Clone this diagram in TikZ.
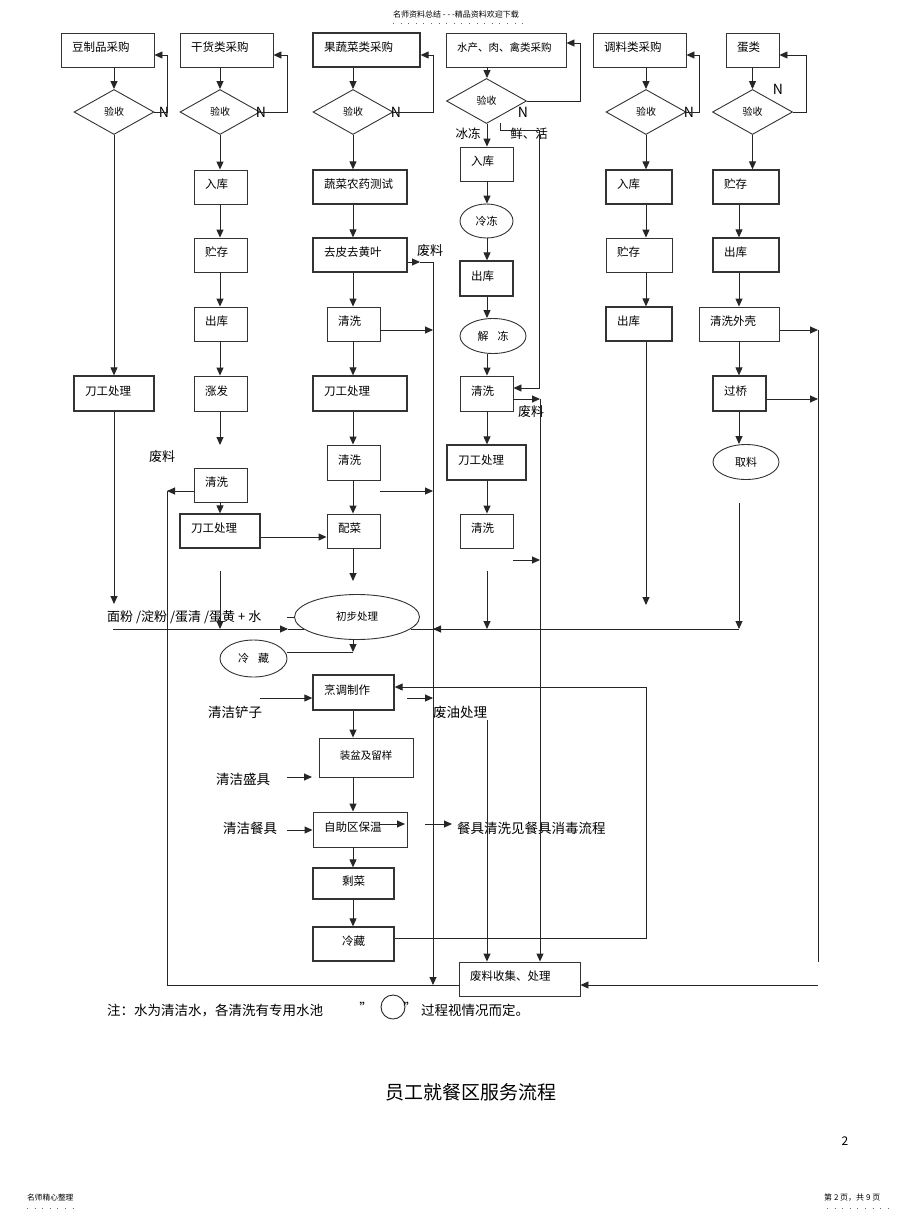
\documentclass[tikz,border=0pt]{standalone}
\usepackage{fontspec}
\setmainfont{Noto Sans CJK SC}
\usetikzlibrary{shapes.geometric,arrows.meta,calc}
\newcommand\mybox[7][]{%
  \pgfmathsetmacro\myBW{#4-#3-22}%
  \pgfmathsetmacro\myBH{#6-#5}%
  \pgfmathsetmacro\myBX{(#3+#4)/2}%
  \pgfmathsetmacro\myBY{(#5+#6)/2}%
  \node[boxs,text width=\myBW pt,minimum height=\myBH pt,#1] (#2) at (\myBX,\myBY) {#7};}
\tikzset{
  ln/.style={line width=0.9pt, draw=black!85},
  arr/.style={ln, -{Triangle[length=8pt,width=7pt]}},
  boxs/.style={draw=black!80, line width=0.9pt, inner xsep=11pt, inner ysep=0pt, align=left,
    text height=9pt, text depth=6pt, font=\fontsize{11.5}{13}\selectfont},
  tbox/.style={line width=1.3pt},
  cbox/.style={align=center},
  dia/.style={diamond, draw=black!80, line width=0.9pt, minimum width=80pt, minimum height=45pt,
    inner sep=0pt, font=\fontsize{10}{11}\selectfont},
  ell/.style={ellipse, draw=black!80, line width=0.9pt, inner sep=0pt, font=\fontsize{11}{12}\selectfont},
  lab/.style={font=\fontsize{13.5}{15}\selectfont, inner sep=0pt},
  nlab/.style={font=\fontsize{14}{15}\selectfont, inner sep=0pt},
  small/.style={font=\fontsize{8}{9}\selectfont, inner sep=0pt},
}
\begin{document}
\begin{tikzpicture}[x=1pt,y=-1pt]
\useasboundingbox (0,0) rectangle (920,1221);
\fill[white] (0,0) rectangle (920,1221);

% header / footer
\node[small,anchor=west] (hdr) at (393,14) {名师资料总结 - - -精品资料欢迎下载};
\draw[black!60,line width=0.6pt,dash pattern=on 1pt off 6.6pt] (393,23) -- (526,23);
\node[small,font=\fontsize{7.7}{9}\selectfont,anchor=west] (ftl) at (27,1198) {名师精心整理};
\draw[black!60,line width=0.6pt,dash pattern=on 1pt off 6.6pt] (27,1208) -- (76,1208);
\node[small,anchor=west] (ftr) at (824,1198) {第 2 页，共 9 页};
\draw[black!60,line width=0.6pt,dash pattern=on 1pt off 6.6pt] (827,1208) -- (892,1208);
\node[font=\fontsize{12}{13}\selectfont] (pg) at (845,1141) {2};
\node[font=\fontsize{19}{21}\selectfont] (title) at (471,1092) {员工就餐区服务流程};

% ---------- column 1
\mybox{c1a}{61}{154}{33}{67}{豆制品采购}
\node[dia] (d1) at (114,112) {验收};
\mybox[tbox]{c1b}{74}{154}{376}{411}{刀工处理}
% ---------- column 2
\mybox{c2a}{180}{273}{33}{67}{干货类采购}
\node[dia] (d2) at (220,112) {验收};
\mybox{c2b}{194}{247}{170}{204}{入库}
\mybox{c2c}{194}{247}{238}{272}{贮存}
\mybox{c2d}{194}{247}{307}{341}{出库}
\mybox{c2e}{194}{247}{376}{411}{涨发}
\mybox{c2f}{194}{247}{468}{502}{清洗}
\mybox[tbox]{c2g}{180}{260}{514}{548}{刀工处理}
% ---------- column 3
\mybox[tbox]{c3a}{313}{420}{33}{67}{果蔬菜类采购}
\node[dia] (d3) at (353,112) {验收};
\mybox[tbox]{c3b}{313}{407}{170}{204}{蔬菜农药测试}
\mybox[tbox]{c3c}{313}{407}{238}{272}{去皮去黄叶}
\mybox{c3d}{327}{380}{307}{341}{清洗}
\mybox[tbox]{c3e}{313}{407}{376}{411}{刀工处理}
\mybox{c3f}{327}{380}{445}{480}{清洗}
\mybox{c3g}{327}{380}{514}{548}{配菜}
\node[ell,minimum width=125pt,minimum height=45pt,font=\fontsize{10.5}{12}\selectfont] (e1) at (357,617) {初步处理};
\node[ell,minimum width=67pt,minimum height=37pt] (e2) at (253.5,658.5) {冷\hspace{9pt}藏};
\mybox[tbox]{c3h}{313}{394}{675}{710}{烹调制作}
\mybox[cbox,font=\fontsize{10.5}{12}\selectfont]{c3i}{319}{413}{738}{777}{装盆及留样}
\mybox{c3j}{313}{407}{812}{847}{自助区保温}
\mybox[tbox,cbox]{c3k}{313}{394}{868}{899}{剩菜}
\mybox[tbox,cbox]{c3l}{313}{394}{927}{961}{冷藏}
\mybox{w}{459}{580}{962}{996}{废料收集、处理}
% ---------- column 4
\mybox[font=\fontsize{10.5}{12}\selectfont]{c4a}{446}{566}{33}{67}{水产、肉、禽类采购}
\node[dia] (d4) at (486.5,101) {验收};
\mybox{c4b}{460}{513}{147}{181}{入库}
\node[ell,minimum width=53pt,minimum height=34pt] (e3) at (486.5,221) {冷冻};
\mybox[tbox]{c4c}{460}{513}{261}{296}{出库}
\node[ell,minimum width=66pt,minimum height=35pt] (e4) at (493,336) {解\hspace{9pt}冻};
\mybox{c4d}{460}{513}{376}{411}{清洗}
\mybox[tbox]{c4e}{447}{526}{445}{480}{刀工处理}
\mybox{c4f}{460}{513}{514}{548}{清洗}
% ---------- column 5
\mybox{c5a}{593}{686}{33}{67}{调料类采购}
\node[dia] (d5) at (646,112) {验收};
\mybox[tbox]{c5b}{606}{672}{170}{204}{入库}
\mybox{c5c}{606}{672}{238}{272}{贮存}
\mybox[tbox]{c5d}{606}{672}{307}{341}{出库}
% ---------- column 6
\mybox{c6a}{726}{779}{33}{67}{蛋类}
\node[dia] (d6) at (752.5,112) {验收};
\mybox[tbox]{c6b}{713}{779}{170}{204}{贮存}
\mybox[tbox]{c6c}{713}{779}{238}{272}{出库}
\mybox{c6d}{699}{779}{307}{341}{清洗外壳}
\mybox[tbox]{c6e}{713}{766}{376}{411}{过桥}
\node[ell,minimum width=66pt,minimum height=35pt] (e5) at (746,462) {取料};

% ---------- labels
\node[nlab] (n1) at (164,112) {N};
\node[nlab] (n2) at (261,112) {N};
\node[nlab] (n3) at (396,112) {N};
\node[nlab] (n4) at (523,112) {N};
\node[nlab] (n5) at (689,112) {N};
\node[nlab] (n6) at (778,89) {N};
\node[lab,font=\fontsize{13}{14}\selectfont] (wl1) at (430,251) {废料};
\node[lab,font=\fontsize{13}{14}\selectfont] (wl2) at (162,457) {废料};
\node[lab,font=\fontsize{13}{14}\selectfont] (wl3) at (531,412) {废料};
\node[lab,font=\fontsize{12.5}{14}\selectfont] (lb1) at (468,134) {冰冻};
\node[lab,font=\fontsize{12.5}{14}\selectfont] (lb2) at (529,134) {鲜、活};
\node[lab,font=\fontsize{13}{14}\selectfont,anchor=west] (flour) at (107,617) {面粉 /淀粉 /蛋清 /蛋黄 + 水};
\node[lab] (qc1) at (235,712) {清洁铲子};
\node[lab] (wo) at (460,712) {废油处理};
\node[lab] (qc2) at (243,779) {清洁盛具};
\node[lab] (qc3) at (250,828) {清洁餐具};
\node[lab,anchor=west] (cj) at (457,828) {餐具清洗见餐具消毒流程};
\node[lab,anchor=west] (note) at (107,1010) {注：水为清洁水，各清洗有专用水池};
\node[lab] (q1) at (366,1008) {"};
\draw[ln] (393,1007) circle (12);
\node[lab] (q2) at (410,1008) {"};
\node[lab,anchor=west] (note2) at (421,1010) {过程视情况而定。};

% ---------- connectors column 1
\coordinate (k1e) at (114,604);
\draw[arr] (c1a.south -| d1) -- (d1.north);
\draw[arr] (d1.south) -- (c1b.north -| d1);
\draw[arr] (c1b.south -| d1) -- (k1e);
\draw[arr] (d1.east) -- ++(13,0) |- ($(c1a.east)+(0,5)$);

% ---------- column 2
\draw[arr] (c2a.south -| d2) -- (d2.north);
\draw[arr] (d2.south) -- (c2b.north -| d2);
\draw[arr] (c2b.south -| d2) -- (c2c.north -| d2);
\draw[arr] (c2c.south -| d2) -- (c2d.north -| d2);
\draw[arr] (c2d.south -| d2) -- (c2e.north -| d2);
\coordinate (k2a) at (220,445);
\draw[arr] (c2e.south -| d2) -- (k2a);
\draw[arr] (c2f.south -| d2) -- (c2g.north -| d2);
\coordinate (k2b) at (167,491);
\draw[arr] (c2f.west |- k2b) -- (k2b);
\draw[ln] (k2b) |- ($(w.west)+(0,6)$);
\draw[arr] ($(c2g.east)+(0,6)$) -- ($(c3g.west)+(0,6)$);
\coordinate (k2c) at (220,571);
\coordinate (k2d) at (220,629);
\draw[arr] (k2c) -- (k2d);
\draw[arr] (d2.east) -- ++(27,0) |- ($(c2a.east)+(0,5)$);

% flour line
\coordinate (fl1) at (113,629);
\coordinate (fl2) at (288,629);
\coordinate (fl3) at (304,629);
\coordinate (tk1) at (287,617);
\draw[arr] (fl1) -- (fl2);
\draw[ln] (fl2) -- (fl3);
\draw[ln] (tk1) -- (e1.west);

% ---------- column 3
\coordinate (x3) at (353,0);
\draw[arr] (c3a.south -| x3) -- (d3.north);
\draw[arr] (d3.south) -- (c3b.north -| x3);
\draw[arr] (c3b.south -| x3) -- (c3c.north -| x3);
\draw[arr] (c3c.south -| x3) -- (c3d.north -| x3);
\draw[arr] (c3d.south -| x3) -- (c3e.north -| x3);
\draw[arr] (c3e.south -| x3) -- (c3f.north -| x3);
\draw[arr] (c3f.south -| x3) -- (c3g.north -| x3);
\draw[arr] (d3.east) -- ++(40,0) |- ($(c3a.east)+(0,5)$);
\coordinate (g1) at (420,262);
\coordinate (g2) at (433,985);
\draw[arr] ($(c3c.east)+(0,7)$) -- (g1);
\draw[arr] (g1) -| (g2);
\coordinate (g5) at (433,330);
\draw[arr] (c3d.east |- g5) -- (g5);
\coordinate (g3) at (380,491);
\draw[arr] (g3) -- (g3 -| g2);
\coordinate (g4) at (353,581);
\draw[arr] (c3g.south -| x3) -- (g4);
\coordinate (h1) at (353,652);
\draw[arr] (e1.south -| x3) -- (h1);
\draw[ln] (h1) -- (h1 -| e2.east);
\coordinate (q1s) at (260,698);
\draw[arr] (q1s) -- (q1s -| c3h.west);
\coordinate (q1t) at (407,698);
\draw[arr] (q1t) -- (q1t -| g2);
\draw[arr] (c3h.south -| x3) -- (c3i.north -| x3);
\coordinate (q2s) at (287,777);
\coordinate (q2e) at (312,777);
\draw[arr] (q2s) -- (q2e);
\draw[arr] (c3i.south -| x3) -- (c3j.north -| x3);
\coordinate (q3s) at (287,830);
\draw[arr] (q3s) -- (q3s -| c3j.west);
\coordinate (q4s) at (380,824);
\coordinate (q4e) at (405,824);
\draw[arr] (q4s) -- (q4e);
\coordinate (q5s) at (425,824);
\coordinate (q5e) at (452,824);
\draw[arr] (q5s) -- (q5e);
\draw[arr] (c3j.south -| x3) -- (c3k.north -| x3);
\draw[arr] (c3k.south -| x3) -- (c3l.north -| x3);
\coordinate (lp2) at (646,687);
\draw[arr] ($(c3l.east)+(0,-6)$) -| (lp2) -- (lp2 -| c3h.east);

% ---------- column 4
\coordinate (x4) at (487,0);
\draw[arr] (c4a.south -| x4) -- (d4.north -| x4);
\draw[arr] (d4.south -| x4) -- (c4b.north -| x4);
\draw[arr] (c4b.south -| x4) -- (e3.north -| x4);
\draw[arr] (e3.south -| x4) -- (c4c.north -| x4);
\draw[arr] (c4c.south -| x4) -- (e4.north -| x4);
\draw[arr] (e4.south -| x4) -- (c4d.north -| x4);
\draw[arr] (c4d.south -| x4) -- (c4e.north -| x4);
\draw[arr] (c4e.south -| x4) -- (c4f.north -| x4);
\draw[arr] (d4.east) -- ++(53,0) |- ($(c4a.east)+(0,-7)$);
\coordinate (s1) at (500,123);
\coordinate (s2) at (539,388);
\draw[arr] (s1) |- (539,130) -- (s2) -- (s2 -| c4d.east);
\coordinate (v1) at (540,399);
\draw[arr] (c4d.east |- v1) -- (v1);
\draw[arr] (v1) -- (v1 |- w.north);
\coordinate (v2) at (513,560);
\draw[arr] (v2) -- (v2 -| v1);
\coordinate (k4a) at (487,571);
\coordinate (k4b) at (487,629);
\draw[arr] (k4a) -- (k4b);
\coordinate (k4c) at (487,720);
\draw[arr] (k4c) -- (k4c |- w.north);

% right horizontal to e1
\coordinate (r1) at (739,629);
\coordinate (r2) at (460,629);
\coordinate (r3) at (433,629);
\coordinate (r4) at (411,629);
\draw[ln] (r1) -- (r4);
\draw[arr] (r2) -- (r3);

% ---------- column 5
\coordinate (x5) at (646,0);
\draw[arr] (c5a.south -| x5) -- (d5.north);
\draw[arr] (d5.south) -- (c5b.north -| x5);
\draw[arr] (c5b.south -| x5) -- (c5c.north -| x5);
\draw[arr] (c5c.south -| x5) -- (c5d.north -| x5);
\coordinate (k5) at (646,605);
\draw[arr] (c5d.south -| x5) -- (k5);
\draw[arr] (d5.east) -- ++(13,0) |- ($(c5a.east)+(0,5)$);

% ---------- column 6
\coordinate (x6) at (739,0);
\draw[arr] (c6a.south -| d6) -- (d6.north);
\draw[arr] (d6.south) -- (c6b.north -| d6);
\draw[arr] (c6b.south -| x6) -- (c6c.north -| x6);
\draw[arr] (c6c.south -| x6) -- (c6d.north -| x6);
\draw[arr] (c6d.south -| x6) -- (c6e.north -| x6);
\draw[arr] (c6e.south -| x6) -- (e5.north -| x6);
\draw[arr] (d6.east) -- ++(13,0) |- ($(c6a.east)+(0,5)$);
\coordinate (rr1) at (818,330);
\coordinate (rr2) at (818,962);
\coordinate (rr4) at (818,399);
\draw[arr] (c6d.east |- rr1) -- (rr1);
\draw[arr] (c6e.east |- rr4) -- (rr4);
\draw[ln] (rr1) -- (rr2);
\coordinate (k6a) at (739,503);
\draw[arr] (k6a) -- (r1);
\coordinate (rr3) at (818,985);
\draw[arr] (rr3) -- ($(w.east)+(0,6)$);
\end{tikzpicture}
\end{document}
